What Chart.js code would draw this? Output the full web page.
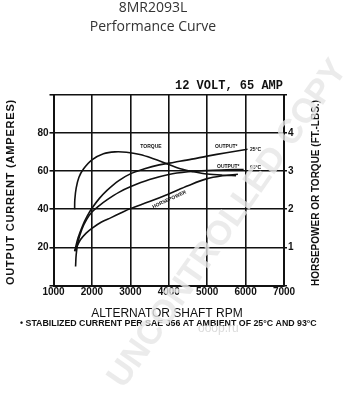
<!DOCTYPE html>
<html>
<head>
<meta charset="utf-8">
<script src="https://cdn.jsdelivr.net/npm/chart.js@4.4.1/dist/chart.umd.min.js"></script>
<style>
  html, body { margin: 0; padding: 0; background: #fff; }
  #wrap { width: 353px; height: 400px; position: relative; }
</style>
</head>
<body>
<div id="wrap"><canvas id="perfChart"></canvas></div>
<script>
// Output current (amps), stabilized at 25 C
const rpmOut25 = [1550, 1640, 1760, 1880, 2000, 2200, 2400, 2700, 3000, 3350, 3750, 4150, 4600, 5000, 5500, 6050];
const ampsOut25 = [18, 25, 31.5, 36.5, 40.5, 45.8, 50, 55, 58.5, 61, 63.2, 64.6, 66.2, 67.8, 69.6, 71.4];

// Output current (amps), stabilized at 93 C
const rpmOut93 = [1575, 1590, 1640, 1740, 1860, 2000, 2200, 2400, 2700, 3000, 3500, 4000, 4500, 5000, 5500, 5950];
const ampsOut93 = [10, 16, 23, 29.5, 34.5, 38.5, 42, 45, 48.8, 51.7, 55.5, 58.2, 59.6, 60.3, 60.6, 60.8];

// Torque (ft-lbs), right axis
const rpmTorque = [1550, 1555, 1590, 1660, 1780, 2000, 2300, 2600, 2900, 3250, 3600, 3950, 4300, 4650, 5000, 5400, 5750];
const torqueFtLbs = [2.0, 2.25, 2.55, 2.83, 3.05, 3.29, 3.45, 3.5, 3.49, 3.43, 3.32, 3.19, 3.06, 2.98, 2.92, 2.89, 2.88];

// Horsepower, right axis
const rpmHp = [1550, 1700, 1850, 2000, 2250, 2500, 2750, 3000, 3500, 4000, 4500, 5000, 5400, 5800];
const horsepower = [0.9, 1.2, 1.375, 1.5, 1.665, 1.78, 1.9, 2.015, 2.2, 2.4, 2.615, 2.8, 2.875, 2.915];

const ink = '#111';
const toPoints = (xs, ys) => xs.map((x, i) => ({ x: x, y: ys[i] }));

// Texts around the plot
const textPlugin = {
    id: 'sheetText',
    afterDraw(chart) {
        const ctx = chart.ctx;
        ctx.save();
        ctx.fillStyle = '#333';
        ctx.textAlign = 'center';
        ctx.textBaseline = 'alphabetic';
        ctx.font = '14px "Open Sans"';
        ctx.fillText('8MR2093L', 153, 12);
        ctx.fillText('Performance Curve', 153, 31);

        ctx.fillStyle = ink;
        ctx.textAlign = 'right';
        ctx.font = 'bold 12px "Liberation Mono"';
        ctx.fillText('12 VOLT, 65 AMP', 283, 89);

        ctx.textAlign = 'center';
        ctx.font = '12px "Liberation Sans"';
        ctx.fillText('ALTERNATOR SHAFT RPM', 167, 317);
        ctx.textAlign = 'left';
        ctx.font = 'bold 8.8px "Liberation Sans"';
        ctx.fillText('\u2022 STABILIZED CURRENT PER SAE J56 AT AMBIENT OF 25\u00B0C AND 93\u00B0C', 20, 326);

        // rotated axis titles
        ctx.textAlign = 'center';
        ctx.save();
        ctx.translate(14, 192);
        ctx.rotate(-Math.PI / 2);
        ctx.font = 'bold 11px "Liberation Sans"';
        ctx.letterSpacing = '0.8px';
        ctx.fillText('OUTPUT CURRENT (AMPERES)', 0, 0);
        ctx.restore();
        ctx.save();
        ctx.translate(319, 193);
        ctx.rotate(-Math.PI / 2);
        ctx.font = 'bold 10px "Liberation Sans"';
        ctx.fillText('HORSEPOWER OR TORQUE (FT.-LBS.)', 0, 0);
        ctx.restore();

        // curve labels
        ctx.font = 'bold 5px "Liberation Sans"';
        ctx.fillText('TORQUE', 151, 148);
        ctx.textAlign = 'left';
        ctx.fillText('OUTPUT*', 215, 148);
        ctx.fillText('25\u00B0C', 250, 151);
        ctx.fillText('OUTPUT*', 217, 168);
        ctx.fillText('93\u00B0C', 250, 169);
        ctx.save();
        ctx.translate(169, 199);
        ctx.rotate(-0.43);
        ctx.textAlign = 'center';
        ctx.fillText('HORSEPOWER', 0, 2);
        ctx.restore();

        // watermark
        ctx.save();
        ctx.translate(228, 224);
        ctx.rotate(-0.96);
        ctx.textAlign = 'center';
        ctx.textBaseline = 'middle';
        ctx.font = 'bold 34px "Liberation Sans"';
        ctx.fillStyle = 'rgba(230,230,230,0.8)';
        ctx.fillText('UNCONTROLLED COPY', 0, 0);
        ctx.restore();
        ctx.font = '12px "Liberation Sans"';
        ctx.fillStyle = 'rgba(215,215,215,0.9)';
        ctx.fillText('ooop.ru', 198, 332);
        ctx.restore();
    }
};

const lineStyle = { borderColor: ink, borderWidth: 1.6, pointRadius: 0, tension: 0.35, fill: false };
const tickFont = { family: 'Liberation Sans', weight: 'bold', size: 10 };

new Chart(document.getElementById('perfChart'), {
    type: 'line',
    data: {
        datasets: [
            { ...lineStyle, label: 'Output 25C', data: toPoints(rpmOut25, ampsOut25), yAxisID: 'y' },
            { ...lineStyle, label: 'Output 93C', data: toPoints(rpmOut93, ampsOut93), yAxisID: 'y' },
            { ...lineStyle, label: 'Torque', data: toPoints(rpmTorque, torqueFtLbs), yAxisID: 'y2' },
            { ...lineStyle, label: 'Horsepower', data: toPoints(rpmHp, horsepower), yAxisID: 'y2' }
        ]
    },
    options: {
        responsive: true,
        maintainAspectRatio: false,
        animation: false,
        layout: { padding: { top: 94.6, left: 0, right: 0, bottom: 0 } },
        plugins: { legend: { display: false }, tooltip: { enabled: false } },
        scales: {
            x: {
                type: 'linear', min: 1000, max: 7000,
                afterFit: s => { s.height = 114.4; },
                ticks: { stepSize: 1000, color: ink, padding: 1, maxRotation: 0,
                         callback: v => String(v), font: tickFont },
                grid: { color: ink, lineWidth: 1.6, drawTicks: false },
                border: { color: ink, width: 2 }
            },
            y: {
                position: 'left', min: 0, max: 100,
                afterFit: s => { s.width = 53.5; },
                ticks: { stepSize: 20, color: ink, padding: 1,
                         callback: v => (v === 0 || v === 100) ? '' : String(v), font: tickFont },
                grid: { color: ink, lineWidth: 1.6, tickLength: 4 },
                border: { color: ink, width: 2 }
            },
            y2: {
                position: 'right', min: 0, max: 5,
                afterFit: s => { s.width = 69; },
                ticks: { stepSize: 1, color: ink, padding: 1,
                         callback: v => (v === 0 || v === 5) ? '' : String(v), font: tickFont },
                grid: { drawOnChartArea: false, color: ink, lineWidth: 1.6, tickLength: 3 },
                border: { color: ink, width: 2 }
            }
        }
    },
    plugins: [textPlugin]
});
</script>
</body>
</html>
